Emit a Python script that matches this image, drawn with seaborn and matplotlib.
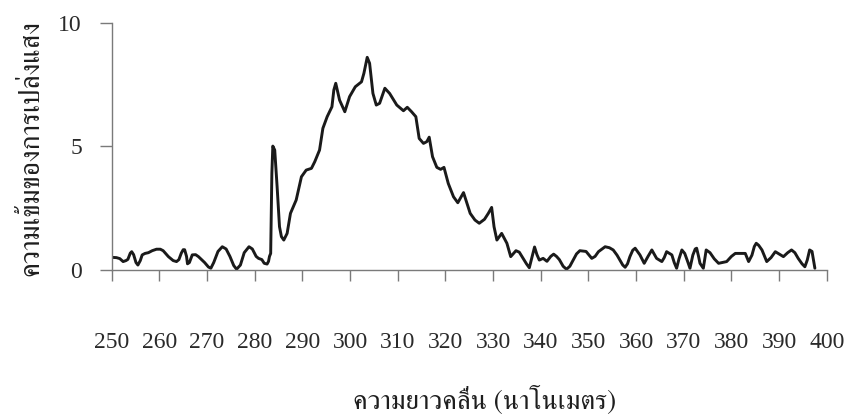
import matplotlib
matplotlib.use("Agg")
import matplotlib.pyplot as plt
from matplotlib import font_manager
from matplotlib.ft2font import FT2Font
import pandas as pd
import seaborn as sns

# Emission spectrum readings
wavelength = [
    250.1, 251.0, 251.7, 252.4, 253.0, 253.4, 253.9, 254.2, 254.6, 255.1,
    255.5, 256.0, 256.4, 257.0, 257.7, 258.5, 259.4, 260.2, 260.8, 261.9,
    262.9, 263.6, 264.1, 264.6, 265.0, 265.3, 265.7, 265.9, 266.3, 266.9,
    267.6, 268.2, 269.5, 270.3, 270.8, 271.4, 272.3, 273.2, 274.0, 274.8,
    275.6, 276.2, 277.0, 277.8, 278.8, 279.5, 280.3, 280.8, 281.5, 282.0,
    282.6, 282.9, 283.1, 283.35, 283.6, 283.8, 284.2, 284.7, 285.2, 285.6,
    286.1, 286.8, 287.5, 288.7, 289.8, 290.8, 291.9, 292.6, 293.6, 294.3,
    295.2, 296.2, 296.6, 297.0, 297.8, 298.9, 299.9, 301.1, 302.4, 302.9,
    303.6, 304.1, 304.8, 305.5, 306.2, 307.3, 308.3, 309.8, 311.2, 312.0,
    312.9, 313.8, 314.5, 315.4, 316.1, 316.6, 317.3, 318.2, 319.0, 319.7,
    320.6, 321.7, 322.6, 323.8, 324.3, 325.2, 326.2, 327.1, 328.2, 329.0,
    329.7, 330.2, 330.8, 331.8, 332.9, 333.7, 334.8, 335.5, 336.2, 337.0,
    337.6, 338.2, 338.7, 339.2, 339.7, 340.5, 341.3, 342.1, 342.7, 343.3,
    343.9, 344.7, 345.4, 346.1, 346.8, 347.5, 348.2, 349.5, 350.7, 351.4,
    352.1, 353.5, 354.4, 355.2, 356.0, 356.6, 357.2, 357.7, 358.2, 358.7,
    359.3, 359.8, 360.8, 361.7, 362.5, 363.3, 364.3, 365.4, 365.9, 366.4,
    367.5, 368.0, 368.5, 369.0, 369.6, 370.2, 370.8, 371.3, 371.9, 372.4,
    372.7, 373.1, 373.4, 374.1, 374.4, 374.7, 375.5, 376.4, 377.3, 379.0,
    380.0, 380.8, 382.0, 382.9, 383.6, 384.3, 384.8, 385.2, 385.7, 386.4,
    387.4, 388.3, 389.2, 390.9, 391.8, 392.6, 393.3, 394.0, 394.8, 395.4,
    395.9, 396.4, 396.9, 397.5,
]
intensity = [
    0.51, 0.50, 0.46, 0.34, 0.38, 0.43, 0.68, 0.74, 0.62, 0.30,
    0.20, 0.38, 0.61, 0.67, 0.70, 0.78, 0.84, 0.84, 0.78, 0.54,
    0.38, 0.34, 0.42, 0.68, 0.82, 0.82, 0.55, 0.25, 0.30, 0.61,
    0.62, 0.54, 0.30, 0.12, 0.07, 0.30, 0.75, 0.94, 0.85, 0.55,
    0.18, 0.03, 0.20, 0.70, 0.94, 0.85, 0.55, 0.47, 0.42, 0.27,
    0.24, 0.35, 0.55, 0.67, 3.91, 5.01, 4.85, 3.37, 1.75, 1.35,
    1.21, 1.48, 2.29, 2.83, 3.77, 4.04, 4.11, 4.38, 4.85, 5.73,
    6.20, 6.60, 7.28, 7.55, 6.87, 6.40, 7.01, 7.41, 7.61, 7.95,
    8.60, 8.36, 7.14, 6.67, 6.74, 7.35, 7.14, 6.67, 6.44, 6.58,
    6.40, 6.20, 5.32, 5.12, 5.19, 5.37, 4.58, 4.15, 4.07, 4.15,
    3.50, 2.96, 2.72, 3.13, 2.83, 2.29, 2.02, 1.89, 2.05, 2.29,
    2.53, 1.75, 1.21, 1.48, 1.08, 0.54, 0.78, 0.72, 0.50, 0.25,
    0.09, 0.55, 0.93, 0.62, 0.40, 0.47, 0.35, 0.55, 0.64, 0.55,
    0.42, 0.15, 0.03, 0.15, 0.40, 0.65, 0.78, 0.75, 0.47, 0.55,
    0.74, 0.94, 0.90, 0.81, 0.60, 0.40, 0.20, 0.11, 0.25, 0.54,
    0.80, 0.88, 0.61, 0.27, 0.55, 0.81, 0.47, 0.34, 0.50, 0.74,
    0.61, 0.30, 0.07, 0.45, 0.81, 0.67, 0.35, 0.07, 0.60, 0.85,
    0.88, 0.55, 0.27, 0.07, 0.45, 0.81, 0.70, 0.45, 0.27, 0.34,
    0.55, 0.67, 0.67, 0.67, 0.34, 0.60, 0.95, 1.08, 1.00, 0.81,
    0.34, 0.50, 0.74, 0.54, 0.70, 0.81, 0.70, 0.47, 0.25, 0.13,
    0.40, 0.81, 0.75, 0.07,
]

x_ticks = list(range(250, 401, 10))
y_ticks = [0, 5, 10]
x_label = "ความยาวคลื่น (นาโนเมตร)"
y_label = "ความเข้มของการเปล่งแสง"


def thai_families():
    """Installed families that carry Thai glyphs, most serif-like first."""
    found = []
    for entry in font_manager.fontManager.ttflist:
        try:
            cmap = FT2Font(entry.fname).get_charmap()
        except Exception:
            continue
        if 0x0E01 in cmap and 0x0E21 in cmap and entry.name not in found:
            found.append(entry.name)
    found.sort(key=lambda n: (0 if "Serif" in n else 1, n))
    return found


sns.set_style("ticks")
plt.rcParams["font.family"] = ["Liberation Serif", "DejaVu Serif"]
label_family = thai_families() + ["Liberation Serif", "DejaVu Sans"]

df = pd.DataFrame({"wavelength": wavelength, "intensity": intensity})

fig = plt.figure(figsize=(8.48, 4.16), dpi=100)
ax = fig.add_axes([0.1317, 0.351, 0.8433, 0.5944])

sns.lineplot(data=df, x="wavelength", y="intensity", ax=ax,
             color="#1a1a1a", linewidth=2.1, sort=False)

ax.set_xlim(250, 400)
ax.set_ylim(0, 10)
ax.set_xticks(x_ticks)
ax.set_yticks(y_ticks)
ax.set_xticklabels([str(t) for t in x_ticks])
ax.set_yticklabels([str(t) for t in y_ticks])

for side in ("top", "right"):
    ax.spines[side].set_visible(False)
for side in ("left", "bottom"):
    ax.spines[side].set_color("#7a7a7a")
    ax.spines[side].set_linewidth(1.0)

ax.tick_params(axis="x", bottom=True, direction="out", length=8, width=1.0,
               color="#7a7a7a", pad=37, labelsize=17, labelcolor="#2a2a2a")
ax.tick_params(axis="y", left=True, direction="out", length=8.4, width=1.0,
               color="#7a7a7a", pad=13, labelsize=17, labelcolor="#2a2a2a")

ax.set_xlabel(x_label, family=label_family, fontsize=19.5, color="#1e1e1e",
              va="center", ha="center")
ax.xaxis.set_label_coords(0.522, -0.526)
ax.set_ylabel(y_label, family=label_family, fontsize=20, color="#1e1e1e",
              va="center", ha="center", rotation=90)
ax.yaxis.set_label_coords(-0.111, 0.493)

fig.savefig("out.png", dpi=100)
